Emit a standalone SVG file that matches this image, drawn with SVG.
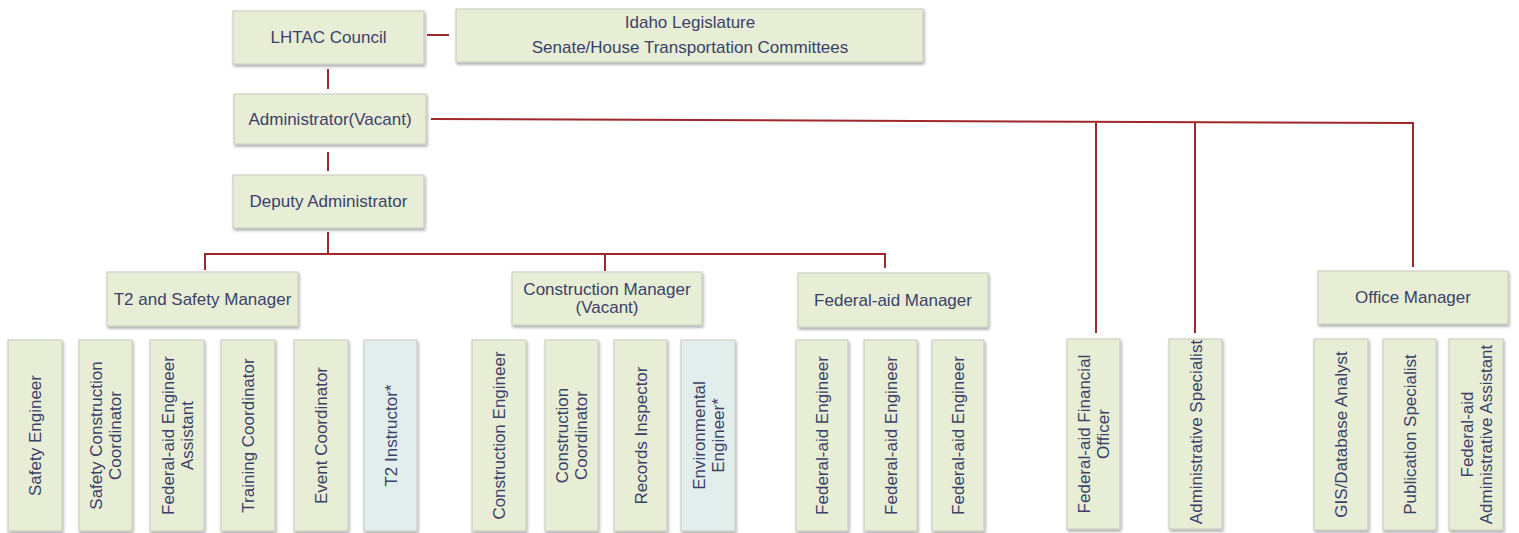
<svg xmlns="http://www.w3.org/2000/svg" width="1519" height="533" viewBox="0 0 1519 533">
<defs>
<filter id="sh" x="-10%" y="-10%" width="125%" height="130%">
<feDropShadow dx="1" dy="2" stdDeviation="1.5" flood-color="#000" flood-opacity="0.35"/>
</filter>
<style>
.box{fill:#e8eed6;stroke:#c6cabd;stroke-width:1;filter:url(#sh)}
.blue{fill:#e2eeeb}
text{font-family:"Liberation Sans",Arial,sans-serif;font-size:17px;fill:#3a4168;text-anchor:middle}
.ln{fill:none;stroke:#a0282b;stroke-width:2}
</style>
</defs>
<rect width="1519" height="533" fill="#fff"/>
<g id="connectors">
<path class="ln" d="M427,35 H449"/>
<path class="ln" d="M328,69 V89"/>
<path class="ln" d="M431,119 L1413,123 V267"/>
<path class="ln" d="M1096,122.5 V333"/>
<path class="ln" d="M1195,122.8 V333"/>
<path class="ln" d="M328,152 V171"/>
<path class="ln" d="M328,232 V254"/>
<path class="ln" d="M205,270 V254 H885 V268"/>
<path class="ln" d="M605,254 V271"/>
</g>
<g id="lhtac"><rect class="box" x="233" y="11" width="191" height="53"/><text x="328.5" y="43">LHTAC Council</text></g>
<g id="idaho"><rect class="box" x="456" y="9" width="467" height="53"/><text x="690" y="28">Idaho Legislature</text><text x="690" y="53">Senate/House Transportation Committees</text></g>
<g id="admin"><rect class="box" x="234" y="94" width="192" height="50"/><text x="330" y="125">Administrator(Vacant)</text></g>
<g id="deputy"><rect class="box" x="233" y="175" width="191" height="53"/><text x="328.5" y="207">Deputy Administrator</text></g>
<g id="t2mgr"><rect class="box" x="107" y="272" width="191" height="54"/><text x="202.5" y="305">T2 and Safety Manager</text></g>
<g id="constmgr"><rect class="box" x="512" y="272" width="190" height="53"/><text x="607" y="295">Construction Manager</text><text x="607" y="313">(Vacant)</text></g>
<g id="famgr"><rect class="box" x="798" y="273" width="190" height="54"/><text x="893" y="306">Federal-aid Manager</text></g>
<g id="officemgr"><rect class="box" x="1318" y="271" width="190" height="53"/><text x="1413" y="303">Office Manager</text></g>

<g id="safety-engineer"><rect class="box" x="8" y="340" width="54" height="191"/><text transform="translate(35,435.5) rotate(-90)" y="6">Safety Engineer</text></g>
<g id="safety-construction-coordinator"><rect class="box" x="79" y="340" width="53" height="191"/><text transform="translate(105.5,435.5) rotate(-90)"><tspan x="0" y="-3.5">Safety Construction</tspan><tspan x="0" y="15.5">Coordinator</tspan></text></g>
<g id="fa-engineer-assistant"><rect class="box" x="150" y="340" width="54" height="191"/><text transform="translate(177,435.5) rotate(-90)"><tspan x="0" y="-3.5">Federal-aid Engineer</tspan><tspan x="0" y="15.5">Assistant</tspan></text></g>
<g id="training-coordinator"><rect class="box" x="221" y="340" width="54" height="191"/><text transform="translate(248,435.5) rotate(-90)" y="6">Training Coordinator</text></g>
<g id="event-coordinator"><rect class="box" x="294" y="340" width="54" height="191"/><text transform="translate(321,435.5) rotate(-90)" y="6">Event Coordinator</text></g>
<g id="t2-instructor"><rect class="box blue" x="364" y="340" width="53" height="191"/><text transform="translate(390.5,435.5) rotate(-90)" y="6">T2 Instructor*</text></g>

<g id="construction-engineer"><rect class="box" x="472" y="340" width="54" height="191"/><text transform="translate(499,435.5) rotate(-90)" y="6">Construction Engineer</text></g>
<g id="construction-coordinator"><rect class="box" x="545" y="340" width="53" height="191"/><text transform="translate(571.5,435.5) rotate(-90)"><tspan x="0" y="-3.5">Construction</tspan><tspan x="0" y="15.5">Coordinator</tspan></text></g>
<g id="records-inspector"><rect class="box" x="614" y="340" width="53" height="191"/><text transform="translate(640.5,435.5) rotate(-90)" y="6">Records Inspector</text></g>
<g id="environmental-engineer"><rect class="box blue" x="681" y="340" width="54" height="191"/><text transform="translate(708,435.5) rotate(-90)"><tspan x="0" y="-3.5">Environmental</tspan><tspan x="0" y="15.5">Engineer*</tspan></text></g>

<g id="fa-engineer-1"><rect class="box" x="796" y="340" width="52" height="191"/><text transform="translate(822,435.5) rotate(-90)" y="6">Federal-aid Engineer</text></g>
<g id="fa-engineer-2"><rect class="box" x="864" y="340" width="53" height="191"/><text transform="translate(890.5,435.5) rotate(-90)" y="6">Federal-aid Engineer</text></g>
<g id="fa-engineer-3"><rect class="box" x="932" y="340" width="52" height="191"/><text transform="translate(958,435.5) rotate(-90)" y="6">Federal-aid Engineer</text></g>

<g id="fa-financial-officer"><rect class="box" x="1067" y="339" width="53" height="190"/><text transform="translate(1093.5,434) rotate(-90)"><tspan x="0" y="-3.5">Federal-aid Financial</tspan><tspan x="0" y="15.5">Officer</tspan></text></g>
<g id="administrative-specialist"><rect class="box" x="1169" y="339" width="53" height="190"/><text transform="translate(1195.5,432) rotate(-90)" y="6">Administrative Specialist</text></g>

<g id="gis-analyst"><rect class="box" x="1314" y="339" width="54" height="191"/><text transform="translate(1341,434.5) rotate(-90)" y="6">GIS/Database Analyst</text></g>
<g id="publication-specialist"><rect class="box" x="1383" y="339" width="53" height="191"/><text transform="translate(1409.5,434.5) rotate(-90)" y="6">Publication Specialist</text></g>
<g id="fa-admin-assistant"><rect class="box" x="1449" y="339" width="54" height="191"/><text transform="translate(1476,434.5) rotate(-90)"><tspan x="0" y="-3.5">Federal-aid</tspan><tspan x="0" y="15.5">Administrative Assistant</tspan></text></g>
</svg>
